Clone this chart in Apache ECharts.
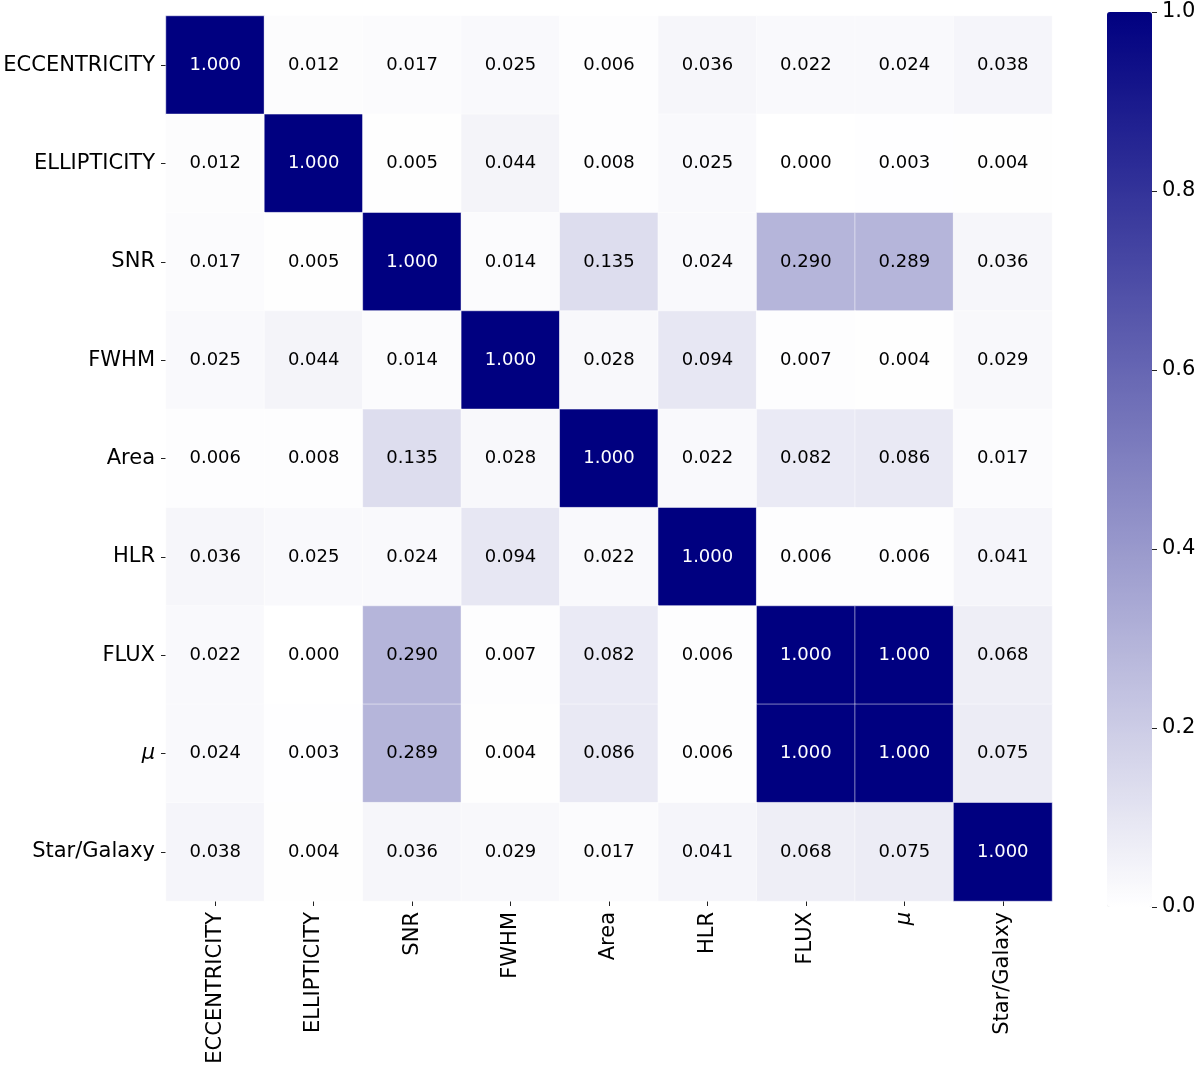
<!DOCTYPE html>
<html>
<head>
<meta charset="utf-8">
<script src="https://cdn.jsdelivr.net/npm/echarts@6/dist/echarts.min.js"></script>
<style>html,body{margin:0;padding:0;background:#fff}#c{width:1200px;height:1068px}</style>
</head>
<body>
<div id="c"></div>
<script>
const categories = ['ECCENTRICITY','ELLIPTICITY','SNR','FWHM','Area','HLR','FLUX','μ','Star/Galaxy'];
const rowECCENTRICITY = [1.000,0.012,0.017,0.025,0.006,0.036,0.022,0.024,0.038];
const rowELLIPTICITY  = [0.012,1.000,0.005,0.044,0.008,0.025,0.000,0.003,0.004];
const rowSNR          = [0.017,0.005,1.000,0.014,0.135,0.024,0.290,0.289,0.036];
const rowFWHM         = [0.025,0.044,0.014,1.000,0.028,0.094,0.007,0.004,0.029];
const rowArea         = [0.006,0.008,0.135,0.028,1.000,0.022,0.082,0.086,0.017];
const rowHLR          = [0.036,0.025,0.024,0.094,0.022,1.000,0.006,0.006,0.041];
const rowFLUX         = [0.022,0.000,0.290,0.007,0.082,0.006,1.000,1.000,0.068];
const rowMu           = [0.024,0.003,0.289,0.004,0.086,0.006,1.000,1.000,0.075];
const rowStarGalaxy   = [0.038,0.004,0.036,0.029,0.017,0.041,0.068,0.075,1.000];
const rows = [rowECCENTRICITY,rowELLIPTICITY,rowSNR,rowFWHM,rowArea,rowHLR,rowFLUX,rowMu,rowStarGalaxy];
const colorbarTicks = [0.0,0.2,0.4,0.6,0.8,1.0];

const FONT = 'DejaVu Sans';
const data = [];
rows.forEach((r, yi) => r.forEach((v, xi) => {
  data.push({value:[xi, yi, v], label:{color: v > 0.5 ? '#ffffff' : '#000000'}});
}));

function catLabel(v){ return v === 'μ' ? '{it|μ}' : v; }

const chart = echarts.init(document.getElementById('c'), null, {renderer:'canvas'});
chart.setOption({
  backgroundColor:'#ffffff',
  animation:false,
  grid:[
    {left:166, top:16, width:886, height:885, containLabel:false, outerBoundsMode:'none'},
    {left:1107, top:12, width:45, height:895, z:10, containLabel:false, outerBoundsMode:'none'}
  ],
  xAxis:[
    {type:'category', data:categories, gridIndex:0, position:'bottom',
     axisLine:{show:false}, splitLine:{show:false},
     axisTick:{show:true, alignWithLabel:true, length:5, lineStyle:{color:'#222', width:1}},
     axisLabel:{rotate:90, fontFamily:FONT, fontSize:21, color:'#000', margin:11, formatter:catLabel,
       rich:{it:{fontStyle:'italic', fontFamily:FONT, fontSize:21, color:'#000'}}}},
    {type:'value', gridIndex:1, show:false, min:0, max:1}
  ],
  yAxis:[
    {type:'category', data:categories, gridIndex:0, inverse:true,
     axisLine:{show:false}, splitLine:{show:false},
     axisTick:{show:true, alignWithLabel:true, length:5, lineStyle:{color:'#222', width:1}},
     axisLabel:{fontFamily:FONT, fontSize:21, color:'#000', margin:11, formatter:catLabel,
       rich:{it:{fontStyle:'italic', fontFamily:FONT, fontSize:21, color:'#000'}}}},
    {type:'value', gridIndex:1, position:'right', z:20,
     min:colorbarTicks[0], max:colorbarTicks[colorbarTicks.length-1], interval:0.2,
     axisLine:{show:false, onZero:false}, splitLine:{show:false},
     axisTick:{show:true, length:5, lineStyle:{color:'#222', width:1}},
     axisLabel:{fontFamily:FONT, fontSize:21, color:'#000', margin:10, formatter:v=>v.toFixed(1)}}
  ],
  visualMap:{
    type:'continuous', min:0, max:1, seriesIndex:0, calculable:false, show:true, z:1,
    orient:'vertical', left:1107, top:12, itemWidth:45, itemHeight:895, padding:0,
    text:null, showLabel:false, hoverLink:false,
    inRange:{color:['#ffffff','#000080']}
  },
  series:[{
    type:'heatmap', xAxisIndex:0, yAxisIndex:0, data:data,
    itemStyle:{borderColor:'#ffffff', borderWidth:0.5},
    label:{show:true, fontFamily:FONT, fontSize:18, formatter:p=>p.value[2].toFixed(3)},
    emphasis:{disabled:true}
  }]
});
</script>
</body>
</html>
